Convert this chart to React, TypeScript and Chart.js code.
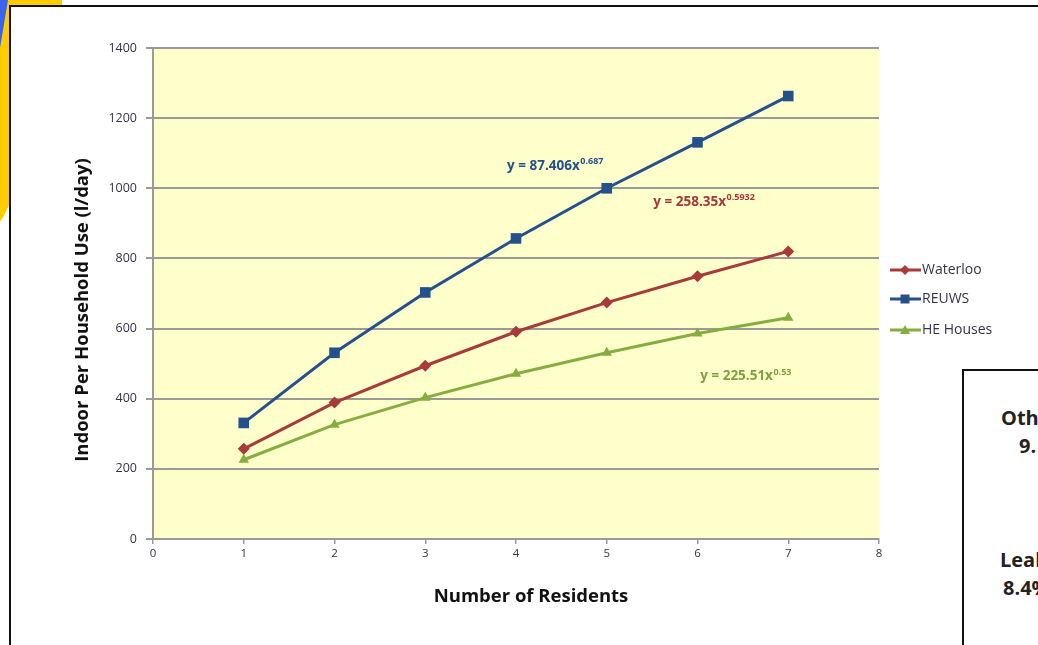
import React, { useEffect, useRef } from 'react';
import { Chart, registerables } from 'chart.js';

Chart.register(...registerables);

const residents = [1, 2, 3, 4, 5, 6, 7];
const waterloo = [257, 389, 494, 591, 674, 749, 820];
const reuws = [331, 531, 703, 857, 1000, 1131, 1263];
const heHouses = [226, 326, 403, 471, 531, 586, 631];
const seriesNames = ['Waterloo', 'REUWS', 'HE Houses'];
const seriesColors = ['#A83A3A', '#24508C', '#86AD3F'];
const seriesMarkers = ['rectRot', 'rect', 'triangle'];
const eqBase = ['y = 258.35x', 'y = 87.406x', 'y = 225.51x'];
const eqSup = ['0.5932', '0.687', '0.53'];
const eqColors = ['#A33838', '#24508C', '#7EA23A'];
const xTitle = 'Number of Residents';
const yTitle = 'Indoor Per Household Use (l/day)';

const FONT = '"Open Sans", Lato, sans-serif';

function drawMarker(ctx: CanvasRenderingContext2D, kind: string, x: number, y: number, r: number, color: string) {
  ctx.save();
  ctx.fillStyle = color;
  ctx.beginPath();
  if (kind === 'rect') {
    ctx.rect(x - r, y - r, 2 * r, 2 * r);
  } else if (kind === 'rectRot') {
    ctx.moveTo(x, y - r);
    ctx.lineTo(x + r, y);
    ctx.lineTo(x, y + r);
    ctx.lineTo(x - r, y);
    ctx.closePath();
  } else {
    ctx.moveTo(x, y - r);
    ctx.lineTo(x + r, y + r * 0.8);
    ctx.lineTo(x - r, y + r * 0.8);
    ctx.closePath();
  }
  ctx.fill();
  ctx.restore();
}

const bgPlugin = {
  id: 'plotBg',
  beforeDraw(chart: any) {
    const { ctx, chartArea } = chart;
    ctx.save();
    ctx.fillStyle = '#FFFFCC';
    ctx.fillRect(chartArea.left, chartArea.top, chartArea.right - chartArea.left, chartArea.bottom - chartArea.top);
    ctx.restore();
  },
};

const eqAnchors = [
  { x: 6.07, y: 960 },
  { x: 4.43, y: 1063 },
  { x: 6.53, y: 463 },
];

const eqPlugin = {
  id: 'equations',
  afterDatasetsDraw(chart: any) {
    const { ctx, scales } = chart;
    ctx.save();
    ctx.textBaseline = 'middle';
    eqBase.forEach((b, i) => {
      const cx = scales.x.getPixelForValue(eqAnchors[i].x);
      const cy = scales.y.getPixelForValue(eqAnchors[i].y);
      ctx.font = `bold 13.5px ${FONT}`;
      const wb = ctx.measureText(b).width;
      ctx.font = `bold 9px ${FONT}`;
      const ws = ctx.measureText(eqSup[i]).width;
      const start = cx - (wb + ws) / 2;
      ctx.fillStyle = eqColors[i];
      ctx.font = `bold 13.5px ${FONT}`;
      ctx.textAlign = 'left';
      ctx.fillText(b, start, cy);
      ctx.font = `bold 9px ${FONT}`;
      ctx.fillText(eqSup[i], start + wb + 0.5, cy - 4.5);
    });
    ctx.restore();
  },
};

const titlePlugin = {
  id: 'axisTitles',
  afterDraw(chart: any) {
    const { ctx } = chart;
    ctx.save();
    ctx.fillStyle = '#111';
    ctx.font = `bold 18.5px ${FONT}`;
    ctx.textAlign = 'center';
    ctx.textBaseline = 'middle';
    ctx.fillText(xTitle, 531, 597);
    ctx.translate(83, 310);
    ctx.rotate(-Math.PI / 2);
    ctx.fillText(yTitle, 0, 0);
    ctx.restore();
  },
};

const legendPlugin = {
  id: 'customLegend',
  afterDraw(chart: any) {
    const { ctx } = chart;
    const x0 = 890;
    const rows = [270, 299, 330];
    ctx.save();
    seriesNames.forEach((name, i) => {
      const y = rows[i];
      ctx.strokeStyle = seriesColors[i];
      ctx.lineWidth = 3;
      ctx.beginPath();
      ctx.moveTo(x0, y);
      ctx.lineTo(x0 + 31, y);
      ctx.stroke();
      drawMarker(ctx, seriesMarkers[i], x0 + 15, y, i === 1 ? 4.5 : 5, seriesColors[i]);
      ctx.fillStyle = '#33334a';
      ctx.font = `14px ${FONT}`;
      ctx.textAlign = 'left';
      ctx.textBaseline = 'middle';
      ctx.fillText(name, x0 + 32, y);
    });
    ctx.restore();
  },
};

export default function App() {
  const ref = useRef<HTMLCanvasElement | null>(null);

  useEffect(() => {
    if (!ref.current) return;
    const seriesData = [waterloo, reuws, heHouses];
    const chart = new Chart(ref.current, {
      type: 'line',
      data: {
        datasets: seriesNames.map((name, i) => ({
          label: name,
          data: residents.map((r, k) => ({ x: r, y: seriesData[i][k] })),
          borderColor: seriesColors[i],
          backgroundColor: seriesColors[i],
          borderWidth: 3,
          pointStyle: seriesMarkers[i] as any,
          pointRadius: i === 1 ? 7.5 : 6,
          pointBorderWidth: 0,
          tension: 0,
          fill: false,
        })),
      },
      options: {
        animation: false,
        responsive: false,
        devicePixelRatio: window.devicePixelRatio || 1,
        layout: { padding: { left: 0, top: 48, right: 159, bottom: 0 } },
        plugins: { legend: { display: false }, tooltip: { enabled: false } },
        scales: {
          x: {
            type: 'linear',
            min: 0,
            max: 8,
            ticks: {
              stepSize: 1,
              color: '#33334a',
              font: { family: FONT, size: 11.5 },
              padding: 3,
              callback: (v: any) => String(v),
            },
            grid: { drawOnChartArea: false, drawTicks: true, tickLength: 5, color: '#9A9A9A', lineWidth: 1.5 },
            border: { display: true, color: '#9A9A9A', width: 2 },
            afterFit(scale: any) {
              scale.height = 106;
            },
          },
          y: {
            type: 'linear',
            min: 0,
            max: 1400,
            ticks: {
              stepSize: 200,
              color: '#33334a',
              font: { family: FONT, size: 12.5 },
              padding: 9,
              callback: (v: any) => String(v),
            },
            grid: { color: '#9A9A9A', lineWidth: 2, tickLength: 7, drawTicks: true },
            border: { display: true, color: '#9A9A9A', width: 2 },
            afterFit(scale: any) {
              scale.width = 153;
            },
          },
        },
      },
      plugins: [bgPlugin, eqPlugin, titlePlugin, legendPlugin],
    });
    return () => chart.destroy();
  }, []);

  const boxText: React.CSSProperties = {
    position: 'absolute',
    fontFamily: FONT,
    fontWeight: 'bold',
    fontSize: 20,
    lineHeight: '22px',
    color: '#222',
    whiteSpace: 'nowrap',
  };

  return (
    <div style={{ position: 'fixed', left: 0, top: 0, width: 1038, height: 645, overflow: 'hidden', background: '#fff' }}>
      <svg width={70} height={230} style={{ position: 'absolute', left: 0, top: 0 }}>
        <path d="M0 0 L62 0 L62 7 L9 7 L9 205 Q5 215 0 222 Z" fill="#FFCC00" />
        <path d="M0 0 L8 0 L0 48 Z" fill="#3A63F0" />
      </svg>
      <div style={{ position: 'absolute', left: 9, top: 5, width: 1100, height: 700, borderLeft: '2px solid #111', borderTop: '2px solid #111' }} />
      <canvas ref={ref} width={1038} height={645} style={{ position: 'absolute', left: 0, top: 0, width: 1038, height: 645 }} />
      <div style={{ position: 'absolute', left: 962, top: 369, width: 200, height: 400, border: '2px solid #111', background: '#fff' }}>
        <div style={{ ...boxText, left: 37, top: 36 }}>Other</div>
        <div style={{ ...boxText, left: 55, top: 64 }}>9.</div>
        <div style={{ ...boxText, left: 36, top: 178 }}>Leaks</div>
        <div style={{ ...boxText, left: 39, top: 206 }}>8.4%</div>
      </div>
    </div>
  );
}
